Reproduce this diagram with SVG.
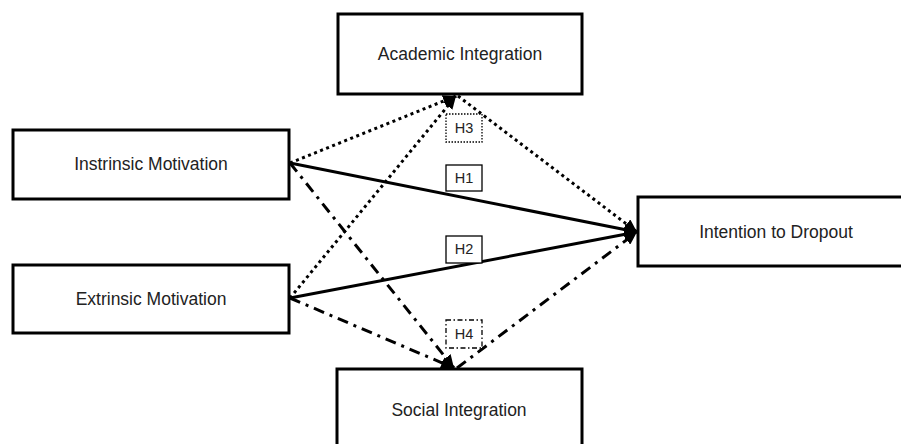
<svg xmlns="http://www.w3.org/2000/svg" width="901" height="444" viewBox="0 0 901 444">
<style>
.box{fill:#fff;stroke:#000;stroke-width:3}
.lbl{font-family:"Liberation Sans",Arial,sans-serif;font-size:17.5px;fill:#222;text-anchor:middle}
.h{font-family:"Liberation Sans",Arial,sans-serif;font-size:14.5px;fill:#222;text-anchor:middle}
.hbox{fill:#fff;stroke:#000;stroke-width:1.3}
.c{fill:none;stroke:#000;stroke-width:3}
.solid{}
.dot{stroke-dasharray:3 3.5}
.dd{stroke-dasharray:11 6 3 6}
</style>
<defs>
<marker id="arr" markerUnits="userSpaceOnUse" markerWidth="14" markerHeight="12" refX="13" refY="6" orient="auto">
<path d="M0,0 L13,6 L0,12 Z" fill="#000"/>
</marker>
</defs>
<rect width="901" height="444" fill="#fff"/>
<g id="connectors">
<line class="c dot" x1="290" y1="163" x2="456" y2="96" marker-end="url(#arr)"/>
<line class="c solid" x1="290" y1="163" x2="637" y2="232" marker-end="url(#arr)"/>
<line class="c dd" x1="290" y1="163" x2="454" y2="368" marker-end="url(#arr)"/>
<line class="c dot" x1="290" y1="298" x2="456" y2="96" marker-end="url(#arr)"/>
<line class="c solid" x1="290" y1="298" x2="637" y2="232" marker-end="url(#arr)"/>
<line class="c dd" x1="290" y1="298" x2="454" y2="368" marker-end="url(#arr)"/>
<line class="c dot" x1="458" y1="96" x2="637" y2="232" marker-end="url(#arr)"/>
<line class="c dd" x1="457" y1="368" x2="637" y2="232" marker-end="url(#arr)"/>
</g>
<g id="academic">
<rect class="box" x="338" y="14" width="244" height="80"/>
<text class="lbl" x="460" y="60">Academic Integration</text>
</g>
<g id="intrinsic">
<rect class="box" x="13" y="130" width="276" height="69"/>
<text class="lbl" x="151" y="170">Instrinsic Motivation</text>
</g>
<g id="extrinsic">
<rect class="box" x="13" y="265" width="276" height="68"/>
<text class="lbl" x="151" y="305">Extrinsic Motivation</text>
</g>
<g id="dropout">
<rect class="box" x="638" y="197" width="280" height="69"/>
<text class="lbl" x="776" y="238">Intention to Dropout</text>
</g>
<g id="social">
<rect class="box" x="337" y="369" width="245" height="82"/>
<text class="lbl" x="459" y="416">Social Integration</text>
</g>
<g id="h3">
<rect class="hbox" x="446" y="114" width="36" height="28" stroke-dasharray="1.5 1.5"/>
<text class="h" x="464" y="133">H3</text>
</g>
<g id="h1">
<rect class="hbox" x="446" y="165" width="36" height="26"/>
<text class="h" x="464" y="183">H1</text>
</g>
<g id="h2">
<rect class="hbox" x="446" y="236" width="36" height="27"/>
<text class="h" x="464" y="254">H2</text>
</g>
<g id="h4">
<rect class="hbox" x="446" y="320" width="36" height="28" stroke-dasharray="5 2.5 1.5 2.5"/>
<text class="h" x="464" y="339">H4</text>
</g>
</svg>
